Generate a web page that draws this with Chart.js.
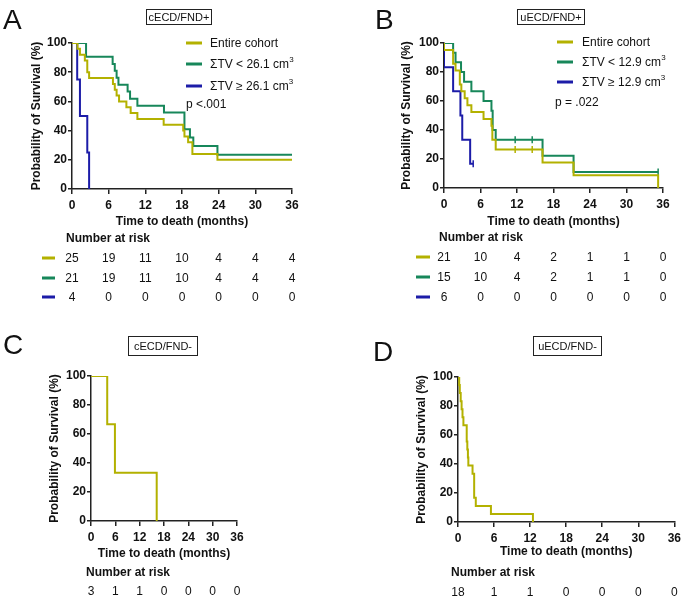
<!DOCTYPE html>
<html>
<head>
<meta charset="UTF-8">
<script src="https://cdn.jsdelivr.net/npm/chart.js"></script>
<style>
  body { margin:0; width:685px; height:601px; background:#fff; position:relative; overflow:hidden;
         font-family:'Liberation Sans', Arial, sans-serif; color:#111; }
  canvas { position:absolute; }
  .t { position:absolute; line-height:1; white-space:nowrap; transform:translateY(-50%); font-size:12px; }
  .c { transform:translate(-50%,-50%); }
  .b { font-weight:bold; }
  .t sup { font-size:8px; line-height:0; vertical-align:6px; }
  .letter { position:absolute; font-size:28px; line-height:28px; }
  .box { position:absolute; border:1.5px solid #222; font-size:11px; box-sizing:border-box;
         display:flex; align-items:center; justify-content:center; }
  .sw { position:absolute; height:3px; transform:translateY(-50%); }
</style>
</head>
<body>
<script>
// colours
const OLIVE = '#b3b100', GREEN = '#17875a', BLUE = '#1c1ca8';

// x ticks (months) used for number-at-risk columns
const riskTimes = [0, 6, 12, 18, 24, 30, 36];

// ---- panel A: cECD/FND+ ----
const aEntireT = [0, 0.9, 1.3, 2.1, 2.5, 2.8, 6.7, 7.0, 7.3, 7.7, 8.9, 9.6, 10.7, 15.0, 18.2, 18.4, 19.0, 19.7, 23.8, 36];
const aEntireS = [100, 96, 92, 88, 80, 76, 72, 68, 64, 60, 56, 52, 48, 44, 40, 36, 32, 24, 20, 20];
const aLowT = [0, 2.3, 6.65, 7.0, 7.3, 7.6, 9.1, 9.5, 10.7, 15.05, 18.4, 19.3, 19.85, 23.8, 36];
const aLowS = [100, 90.5, 85.7, 81, 76.2, 71.4, 66.7, 61.9, 57.1, 52.4, 41, 35.3, 29.4, 23.5, 23.5];
const aHighT = [0, 0.85, 1.3, 2.5, 2.8];
const aHighS = [100, 75, 50, 25, 0];
const aRiskEntire = [25, 19, 11, 10, 4, 4, 4];
const aRiskLow = [21, 19, 11, 10, 4, 4, 4];
const aRiskHigh = [4, 0, 0, 0, 0, 0, 0];

// ---- panel B: uECD/FND+ ----
const bEntireT = [0, 0, 1.5, 1.9, 2.6, 2.85, 3.4, 3.85, 4.5, 6.5, 7.8, 7.95, 8.5, 16.2, 21.3, 35.2];
const bEntireS = [100, 95.2, 85.7, 81, 71.4, 66.7, 61.9, 57.1, 52.4, 47.6, 42.9, 33.3, 26.5, 17.6, 8.8, 0];
const bEntireCensT = [11.7, 14.5];
const bEntireCensS = [26.5, 26.5];
const bLowT = [0, 1.5, 1.9, 2.8, 3.3, 4.5, 6.5, 7.8, 8.0, 8.5, 16.2, 21.3, 35.2];
const bLowS = [100, 93.3, 86.7, 80, 73.3, 66.7, 60, 53.3, 40, 33.3, 22.2, 11.1, 11.1];
const bLowCensT = [11.7, 14.5, 35.2];
const bLowCensS = [33.3, 33.3, 11.1];
const bHighT = [0, 0, 1.5, 2.7, 3.0, 4.3, 4.8];
const bHighS = [100, 83.3, 66.7, 50, 33.3, 16.7, 16.7];
const bHighCensT = [4.8];
const bHighCensS = [16.7];
const bRiskEntire = [21, 10, 4, 2, 1, 1, 0];
const bRiskLow = [15, 10, 4, 2, 1, 1, 0];
const bRiskHigh = [6, 0, 0, 0, 0, 0, 0];

// ---- panel C: cECD/FND- ----
const cEntireT = [0, 4.0, 5.9, 16.2];
const cEntireS = [100, 66.7, 33.3, 0];
const cRisk = [3, 1, 1, 0, 0, 0, 0];

// ---- panel D: uECD/FND- ----
const dEntireT = [0, 0.2, 0.3, 0.45, 0.6, 0.75, 0.9, 1.45, 1.55, 1.65, 1.72, 2.42, 2.69, 2.96, 5.48, 12.47];
const dEntireS = [100, 94.4, 88.9, 83.3, 77.8, 72.2, 66.7, 55.6, 50, 44.4, 38.9, 33.3, 16.7, 11.1, 5.6, 0];
const dRisk = [18, 1, 1, 0, 0, 0, 0];

const FONT = "'Liberation Sans', Arial, sans-serif";
const pts = (t, s) => t.map((x, i) => ({ x: x, y: s[i] }));

function txt(html, x, y, cls) {
  const d = document.createElement('div');
  d.className = 't ' + (cls || '');
  d.innerHTML = html;
  d.style.left = x + 'px';
  d.style.top = y + 'px';
  document.body.appendChild(d);
  return d;
}
function swatch(x, y, w, color) {
  const d = document.createElement('div');
  d.className = 'sw';
  d.style.left = x + 'px'; d.style.top = y + 'px';
  d.style.width = w + 'px'; d.style.background = color;
  document.body.appendChild(d);
}

const panels = [
  { letter: 'A', lx: 3, ly: 6, title: 'cECD/FND+', box: [146, 9, 66, 16],
    cx: 0, cy: 30, cw: 340, ch: 210, L: 72, T: 43, R: 292, B: 189, yTitleX: 37, xTitleY: 222,
    series: [
      { t: aEntireT, s: aEntireS, color: OLIVE },
      { t: aLowT, s: aLowS, color: GREEN },
      { t: aHighT, s: aHighS, color: BLUE } ],
    legend: { sx: 186, tx: 210, ys: [43, 64, 86],
      items: [['Entire cohort', OLIVE], ['ΣTV &lt; 26.1 cm<sup>3</sup>', GREEN], ['ΣTV ≥ 26.1 cm<sup>3</sup>', BLUE]],
      p: ['p &lt;.001', 186, 104] },
    risk: { nx: 66, ny: 238, ys: [258, 278, 297], sx: 42, sw: 13,
      rows: [[aRiskEntire, OLIVE], [aRiskLow, GREEN], [aRiskHigh, BLUE]] } },
  { letter: 'B', lx: 375, ly: 6, title: 'uECD/FND+', box: [517, 9, 68, 16],
    cx: 340, cy: 30, cw: 345, ch: 210, L: 444, T: 43, R: 663, B: 188, yTitleX: 407, xTitleY: 222,
    series: [
      { t: bEntireT, s: bEntireS, color: OLIVE, ct: bEntireCensT, cs: bEntireCensS },
      { t: bLowT, s: bLowS, color: GREEN, ct: bLowCensT, cs: bLowCensS },
      { t: bHighT, s: bHighS, color: BLUE, ct: bHighCensT, cs: bHighCensS } ],
    legend: { sx: 557, tx: 582, ys: [42, 62, 82],
      items: [['Entire cohort', OLIVE], ['ΣTV &lt; 12.9 cm<sup>3</sup>', GREEN], ['ΣTV ≥ 12.9 cm<sup>3</sup>', BLUE]],
      p: ['p = .022', 555, 102] },
    risk: { nx: 439, ny: 237, ys: [257, 277, 297], sx: 416, sw: 14,
      rows: [[bRiskEntire, OLIVE], [bRiskLow, GREEN], [bRiskHigh, BLUE]] } },
  { letter: 'C', lx: 3, ly: 331, title: 'cECD/FND-', box: [128, 336, 70, 20],
    cx: 0, cy: 355, cw: 340, ch: 215, L: 91, T: 376, R: 237, B: 521, yTitleX: 55, xTitleY: 554,
    series: [{ t: cEntireT, s: cEntireS, color: OLIVE }],
    risk: { nx: 86, ny: 572, ys: [591], rows: [[cRisk, null]] } },
  { letter: 'D', lx: 373, ly: 338, title: 'uECD/FND-', box: [533, 336, 69, 20],
    cx: 340, cy: 355, cw: 345, ch: 215, L: 458, T: 377, R: 678, B: 522, yTitleX: 421.5, xTitleY: 552,
    series: [{ t: dEntireT, s: dEntireS, color: OLIVE }],
    risk: { nx: 451, ny: 572, ys: [592], rows: [[dRisk, null]] } }
];

function axisCommon(tickLen) {
  return {
    border: { display: true, color: '#222', width: 1.5 },
    grid: { display: true, drawOnChartArea: false, drawTicks: true, tickLength: tickLen, color: '#222', lineWidth: 1.5 },
    ticks: { color: '#111', font: { family: FONT, size: 12, weight: 'bold' } }
  };
}

panels.forEach(p => {
  const cv = document.createElement('canvas');
  cv.width = p.cw; cv.height = p.ch;
  cv.style.left = p.cx + 'px'; cv.style.top = p.cy + 'px';
  cv.style.width = p.cw + 'px'; cv.style.height = p.ch + 'px';
  document.body.appendChild(cv);

  const yW = p.L - p.cx;
  const xH = p.xTitleY + 8.2 - p.B;

  const datasets = [];
  p.series.forEach(s => {
    datasets.push({ data: pts(s.t, s.s), borderColor: s.color, borderWidth: 2, stepped: true,
      pointRadius: 0, fill: false, tension: 0 });
    if (s.ct) {
      datasets.push({ data: pts(s.ct, s.cs), showLine: false, pointStyle: 'line', rotation: 90,
        pointRadius: 3.5, pointBorderWidth: 1.5, pointBorderColor: s.color, borderColor: s.color });
    }
  });

  const xs = axisCommon(5), ys = axisCommon(4);
  const chart = new Chart(cv, {
    type: 'line',
    data: { datasets: datasets },
    options: {
      responsive: false, animation: false, devicePixelRatio: 1,
      layout: { padding: { left: 0, top: p.T - p.cy, right: p.cx + p.cw - p.R, bottom: p.cy + p.ch - p.B - xH } },
      plugins: { legend: { display: false }, tooltip: { enabled: false } },
      scales: {
        x: Object.assign(xs, {
          type: 'linear', min: 0, max: 36,
          ticks: Object.assign(xs.ticks, { stepSize: 6, padding: 4, maxRotation: 0 }),
          title: { display: true, text: 'Time to death (months)', color: '#111',
            font: { family: FONT, size: 12, weight: 'bold' }, padding: { top: 0, bottom: 1 } },
          afterFit: s => { s.height = xH; }
        }),
        y: Object.assign(ys, {
          min: 0, max: 100,
          ticks: Object.assign(ys.ticks, { stepSize: 20, padding: 1 }),
          title: { display: true, text: 'Probability of Survival (%)', color: '#111',
            font: { family: FONT, size: 12, weight: 'bold' }, padding: { top: p.yTitleX - p.cx - 7.2, bottom: 0 } },
          afterFit: s => { s.width = yW; }
        })
      }
    }
  });

  // panel letter and title box
  const L = document.createElement('div');
  L.className = 'letter'; L.textContent = p.letter;
  L.style.left = p.lx + 'px'; L.style.top = p.ly + 'px';
  document.body.appendChild(L);
  const bx = document.createElement('div');
  bx.className = 'box'; bx.textContent = p.title;
  bx.style.left = p.box[0] + 'px'; bx.style.top = p.box[1] + 'px';
  bx.style.width = p.box[2] + 'px'; bx.style.height = p.box[3] + 'px';
  document.body.appendChild(bx);

  // legend
  if (p.legend) {
    p.legend.items.forEach((it, i) => {
      swatch(p.legend.sx, p.legend.ys[i], 16, it[1]);
      txt(it[0], p.legend.tx, p.legend.ys[i]);
    });
    txt(p.legend.p[0], p.legend.p[1], p.legend.p[2]);
  }

  // number at risk
  const r = p.risk;
  txt('Number at risk', r.nx, r.ny, 'b');
  r.rows.forEach((row, i) => {
    if (row[1]) swatch(r.sx, r.ys[i], r.sw, row[1]);
    row[0].forEach((v, j) => {
      const x = p.cx + chart.scales.x.getPixelForValue(riskTimes[j]);
      txt(String(v), x, r.ys[i], 'c');
    });
  });
});
</script>
</body>
</html>
